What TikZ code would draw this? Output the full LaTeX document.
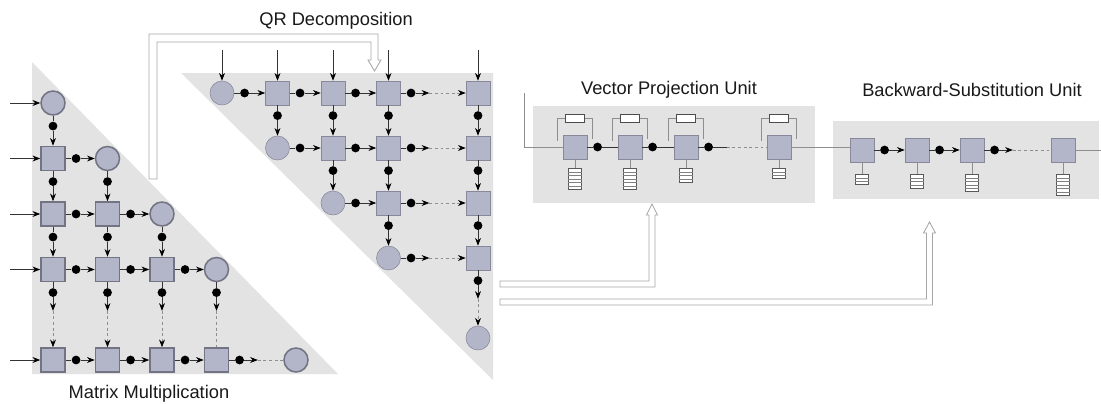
\documentclass[tikz,border=0pt]{standalone}
\usepackage{fontspec}
\setmainfont{Liberation Sans}
\usetikzlibrary{arrows.meta,positioning,calc}
\definecolor{bggray}{HTML}{E3E3E3}
\definecolor{pefill}{HTML}{B3B5C9}
\definecolor{pedraw}{HTML}{87889A}
\definecolor{wiregray}{HTML}{333333}
\definecolor{feedgray}{HTML}{8E8E8E}
\definecolor{hollowgray}{HTML}{A6A6A6}
\tikzset{
    icell/.style = {draw=pedraw, fill=pefill, rectangle,
        minimum size=0.6cm, inner sep=0pt},
    bcell/.style = {draw=pedraw, fill=pefill, circle,
        minimum size=0.6cm, inner sep=0pt},
    mmcell/.style = {line width=1.1pt, draw=pedraw!85!black},
    dot/.style = {circle, fill=black, inner sep=0pt, minimum size=0.22cm},
    wire/.style = {draw=wiregray, line width=0.5pt},
    skipline/.style = {draw=feedgray, line width=0.5pt, dash pattern=on 2pt off 2pt},
    feed/.style = {draw=feedgray, line width=0.6pt},
    reg/.style = {draw=black!70, fill=white, rectangle,
        minimum width=0.475cm, minimum height=0.2cm, inner sep=0pt},
    stack/.style = {draw=black!65, fill=white, rectangle,
        minimum width=0.31cm, inner sep=0pt, line width=0.5pt},
    stackline/.style = {draw=black!50, line width=0.4pt},
    hollow/.style = {draw=hollowgray, fill=white, line width=0.6pt},
    bg/.style = {fill=bggray},
    title/.style = {font=\fontsize{13}{15}\selectfont, text=black!90, anchor=base}
}
\newcommand{\hlink}[3][->]{%
    \node [dot, right=0.14cm of #2] (d) {};
    \draw [wire] (#2) -- (d);
    \draw [wire,#1] (d) -- (#3);
}
\newcommand{\vlink}[2]{%
    \node [dot, below=0.14cm of #1] (d) {};
    \draw [wire] (#1) -- (d);
    \draw [wire,->] (d) -- (#2);
}
\newcommand{\hlinkskip}[4]{%
    \node [dot, right=0.14cm of #1] (d) {};
    \coordinate [right=0.34cm of d] (m);
    \draw [wire] (#1) -- (d);
    \draw [wire,#3] (d) -- (m);
    \draw [skipline,#4] (m) -- (#2);
}
\newcommand{\vlinkskip}[3]{%
    \node [dot, below=0.14cm of #1] (d) {};
    \coordinate [below=0.34cm of d] (m);
    \draw [wire] (#1) -- (d);
    \draw [wire,->] (d) -- (m);
    \draw [skipline,#3] (m) -- (#2);
}
\newcommand{\regfile}[4]{%
    \node [stack, minimum height=#3*0.085cm, below=#4 of #1] (#2) {};
    \foreach \cellno in {2,...,#3} {
        \pgfmathsetmacro\frac{(\cellno-1)/#3}
        \draw [stackline] ($(#2.north west)!\frac!(#2.south west)$) -- ($(#2.north east)!\frac!(#2.south east)$);
    }
    \draw [feed] (#1) -- (#2);
}
\newcommand{\feedback}[2]{%
    \draw [feed] ([xshift=-0.45cm,yshift=-0.15cm]#1.north) |- (#2.west);
    \draw [feed] (#2.east) -| ([xshift=0.425cm,yshift=-0.1cm]#1.north);
}

\begin{document}
\begin{tikzpicture}[x=0.025cm, y=-0.025cm, >={Stealth[length=5.5pt,width=4.2pt,color=black]}]
    \useasboundingbox (0,0) rectangle (1101,403);

    \fill [bg] (32,62) -- (32,374) -- (338,374) -- cycle;
    \fill [bg] (181,73) -- (493,73) -- (493,380) -- cycle;
    \fill [bg] (533,106) rectangle (815,203);
    \fill [bg] (833,121) rectangle (1099,199);

    \draw [hollow] (149,179) -- (149,34) -- (378,34) -- (378,60) -- (381,60) -- (374.5,71)
        -- (368,60) -- (371,60) -- (371,42) -- (157,42) -- (157,179) -- cycle;
    \draw [hollow] (500,281) -- (649,281) -- (649,215) -- (646.5,215) -- (652,204)
        -- (657.5,215) -- (655,215) -- (655,287) -- (500,287) -- cycle;
    \draw [hollow] (500,299) -- (926.5,299) -- (926.5,233) -- (923.5,233) -- (929.5,222)
        -- (935.5,233) -- (932.5,233) -- (932.5,305) -- (500,305) -- cycle;

    \node [title] (mmtitle) at (149,398) {Matrix Multiplication};
    \node [title] (qrtitle) at (336,25) {QR Decomposition};
    \node [title] (vptitle) at (669,94) {Vector Projection Unit};
    \node [title] (bstitle) at (972,96.5) {Backward-Substitution Unit};

    \foreach \row/\y in {1/103,2/158.5,3/214,4/269.5,5/360} {
        \coordinate (in\row) at (10,\y);
        \foreach \col/\x in {1/53,2/107.5,3/162,4/216.5} {
            \ifnum\col<\row \node [icell,mmcell] (mm\row\col) at (\x,\y) {}; \fi
            \ifnum\col=\row \node [bcell,mmcell] (mm\row\col) at (\x,\y) {}; \fi
        }
        \draw [wire,->] (in\row) -- (mm\row1);
    }
    \node [bcell,mmcell] (mm55) at (296,360) {};
    \foreach \row/\col/\nxt in {2/1/2,3/1/2,3/2/3,4/1/2,4/2/3,4/3/4,5/1/2,5/2/3,5/3/4}
        {\hlink{mm\row\col}{mm\row\nxt}}
    \hlinkskip{mm54}{mm55}{->}{-}
    \foreach \col/\row/\nxt in {1/1/2,1/2/3,1/3/4,2/2/3,2/3/4,3/3/4}
        {\vlink{mm\row\col}{mm\nxt\col}}
    \foreach \col in {1,2,3} {\vlinkskip{mm4\col}{mm5\col}{->}}
    \vlinkskip{mm44}{mm54}{-}

    \foreach \row/\y in {1/93,2/148,3/203,4/258} {
        \foreach \col/\x in {1/222,2/277.5,3/333,4/388.5,5/478} {
            \ifnum\col=\row \node [bcell] (qr\row\col) at (\x,\y) {}; \fi
            \ifnum\col>\row \node [icell] (qr\row\col) at (\x,\y) {}; \fi
        }
    }
    \node [bcell] (qr55) at (478,338) {};
    \foreach \col/\x in {1/222,2/277.5,3/333,4/388.5,5/478} {
        \coordinate (top\col) at (\x,50);
        \draw [wire,->] (top\col) -- (qr1\col);
    }
    \foreach \row/\col/\nxt in {1/1/2,1/2/3,1/3/4,2/2/3,2/3/4,3/3/4}
        {\hlink{qr\row\col}{qr\row\nxt}}
    \foreach \row in {1,...,4} {\hlinkskip{qr\row4}{qr\row5}{->}{->}}
    \foreach \col/\row/\nxt in {2/1/2,3/1/2,3/2/3,4/1/2,4/2/3,4/3/4,5/1/2,5/2/3,5/3/4}
        {\vlink{qr\row\col}{qr\nxt\col}}
    \vlinkskip{qr45}{qr55}{->}

    \foreach \k/\x/\cells in {1/575/6,2/630/6,3/686/4,4/779/3} {
        \node [icell] (vp\k) at (\x,147) {};
        \node [reg, above=0.3cm of vp\k] (rg\k) {};
        \feedback{vp\k}{rg\k}
        \regfile{vp\k}{vs\k}{\cells}{0.225cm}
    }
    \hlink[-]{vp1}{vp2}
    \hlink[-]{vp2}{vp3}
    \hlinkskip{vp3}{vp4}{-}{-}
    \coordinate (vpin) at (524,93);
    \draw [feed] (vpin) |- (vp1);

    \foreach \k/\x/\cells in {1/862/3,2/917/4,3/972/5,4/1063/6} {
        \node [icell] (bs\k) at (\x,150) {};
        \regfile{bs\k}{bst\k}{\cells}{0.3cm}
    }
    \hlink{bs1}{bs2}
    \hlink{bs2}{bs3}
    \hlinkskip{bs3}{bs4}{->}{-}
    \coordinate (bsout) at (1101,150);
    \draw [feed] (bs4) -- (bsout);
    \draw [feed] (vp4.east) -- (vp4.east -| bs1.west);
\end{tikzpicture}
\end{document}
